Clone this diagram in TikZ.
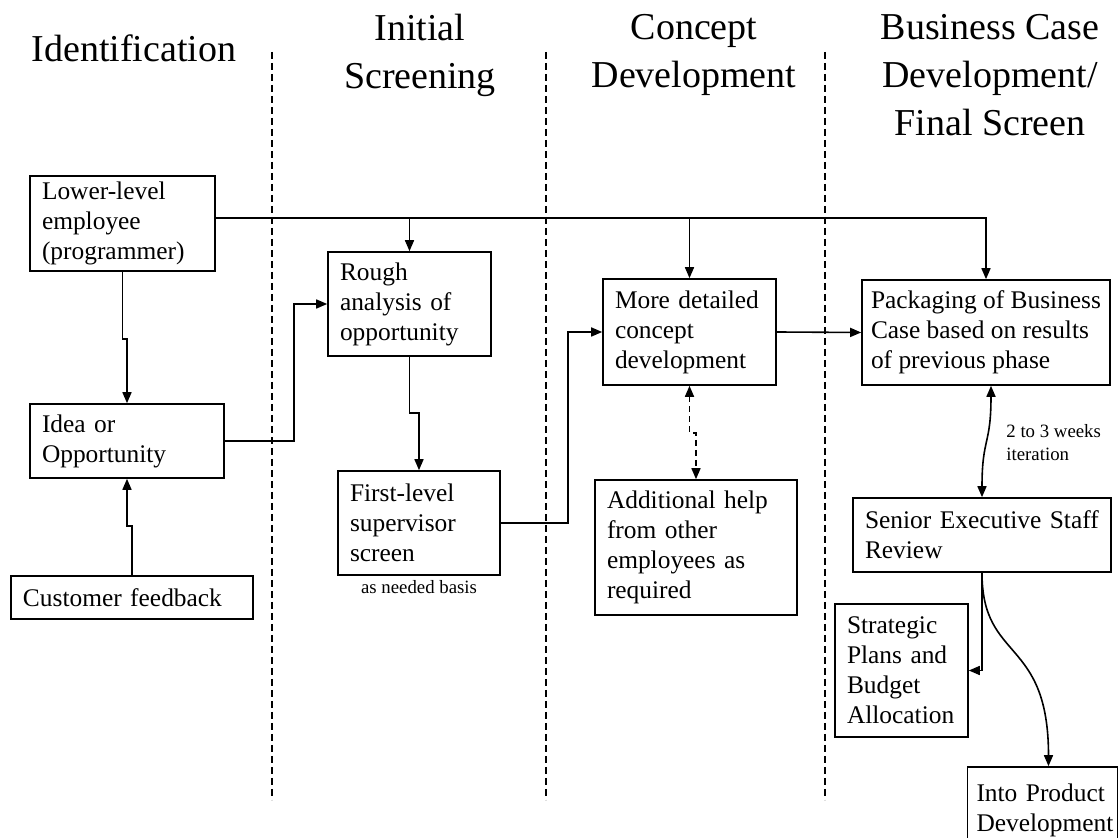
\documentclass[tikz,border=0pt]{standalone}
\usepackage{fontspec}
\setmainfont{Liberation Serif}
\usetikzlibrary{arrows.meta,positioning,calc}
\tikzset{
  stage/.style={rectangle, draw=black, line width=0.8pt, align=left,
    inner xsep=6pt, inner ysep=3pt, font=\fontsize{12.7}{15}\selectfont},
  phase/.style={align=center, inner sep=0pt, font=\fontsize{19}{24}\selectfont},
  note/.style={align=left, inner sep=1pt, font=\fontsize{9.4}{11.5}\selectfont},
  flow/.style={-{Triangle[length=5.5pt,width=4.5pt]}, line width=0.8pt},
  twoway/.style={{Triangle[length=5.5pt,width=4.5pt]}-{Triangle[length=5.5pt,width=4.5pt]}, line width=0.8pt},
  lane/.style={line width=0.6pt, dash pattern=on 3.5pt off 2pt},
}

\begin{document}
\begin{tikzpicture}[x=0.5pt, y=-0.5pt]
  \clip (0,0) rectangle (1120,838);
  % phase headings and lane dividers
  \node[phase] (hid) at (134,48) {Identification};
  \node[phase, anchor=north] (his) at (420,14) {Initial\\Screening};
  \node[phase, anchor=north] (hcd) at (694,14) {Concept\\Development};
  \node[phase, anchor=north] (hbc) at (990,14) {Business Case\\Development/\\Final Screen};
  \foreach \x in {272,546,825}
    \draw[lane] (\x,52) -- (\x,800);
  % identification
  \node[stage, text width=80.5pt, minimum height=46.5pt] (lower) at (122.5,223.5) {Lower-level\\employee\\(programmer)};
  \node[stage, text width=85pt, minimum height=37pt] (idea) at (127,441) {Idea or\\Opportunity};
  \node[stage, text width=109pt, minimum height=21.5pt] (cust) at (132,597.5) {Customer feedback};
  % initial screening
  \node[stage, text width=69.5pt, minimum height=52pt] (rough) at (409.5,304) {Rough\\analysis of\\opportunity};
  \node[stage, text width=69pt, minimum height=52pt] (first) at (419,523) {First-level\\supervisor\\screen};
  \node[note, below=1pt of first] (basis) {as needed basis};
  % concept development
  \node[stage, text width=74.5pt, minimum height=53pt] (more) at (689.5,332) {More detailed\\concept\\development};
  \node[stage, text width=89pt, minimum height=67.5pt] (add) at (696,547.5) {Additional help\\from other\\employees as\\required};
  % business case / final screen
  \node[stage, inner xsep=4pt, minimum width=124pt, minimum height=52.5pt] (pack) at (986,332.5) {Packaging of Business\\Case based on results\\of previous phase};
  \node[stage, text width=117pt, minimum height=37pt] (senior) at (982,535) {Senior Executive Staff\\Review};
  \node[note, anchor=west] (iter) at (1004,443) {2 to 3 weeks\\iteration};
  \node[stage, text width=54.5pt, minimum height=66.5pt] (strat) at (901.5,670.5) {Strategic\\Plans and\\Budget\\Allocation};
  \node[stage, text width=66pt, inner xsep=4.5pt, minimum height=43pt] (into) at (1042.5,810) {Into Product\\Development};
  % connectors
  \coordinate (bus) at ($(lower.east)+(0,-5.5)$);
  \draw[flow] (bus) -| (pack.north);
  \draw[flow] (bus -| rough.north) -- (rough.north);
  \draw[flow] (bus -| more.north) -- (more.north);
  \draw[flow] (lower.south) -- ++(0,67) -| (idea.north);
  \draw[flow] (cust.north) -- ++(0,-49) -| (idea.south);
  \draw[flow] (idea.east) -- ++(69,0) |- (rough.west);
  \draw[flow] (rough.south) -- ++(0,56) -| (first.north);
  \draw[flow] (first.east) -- ++(67,0) |- (more.west);
  \draw[flow] (more.east) -- (pack.west);
  \draw[twoway, dash pattern=on 3pt off 2pt] (more.south) -- ++(0,47) -| (add.north);
  \draw[twoway] ($(pack.south)+(5,0)$) .. controls +(0,60) and +(0,-60) .. (senior.north);
  \draw[flow] (senior.south) |- (strat.east);
  \draw[flow] (senior.south) .. controls +(0,90) and +(0,-130) .. ($(into.north)+(6,0)$);
\end{tikzpicture}
\end{document}
